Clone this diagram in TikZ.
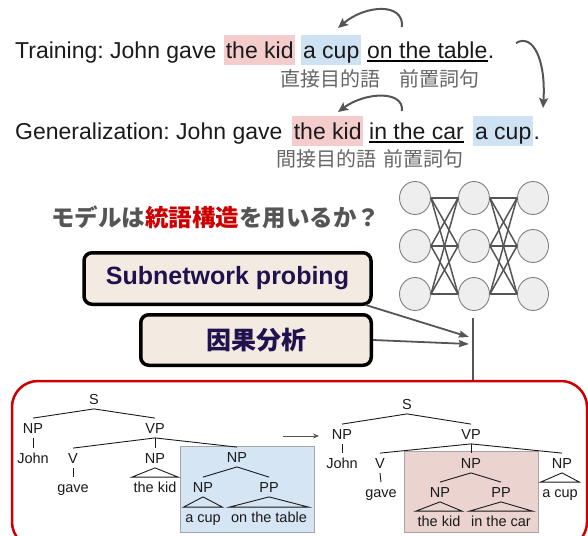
\documentclass[tikz,border=0pt]{standalone}
\usepackage{fontspec}
\setmainfont{Liberation Sans}
\newfontfamily\jp{Noto Sans CJK JP}
\usetikzlibrary{arrows.meta,calc,shapes.geometric}
\definecolor{txt}{HTML}{1A1A1A}
\definecolor{hlpink}{HTML}{F4CCCC}
\definecolor{hlblue}{HTML}{CFE2F3}
\definecolor{anngray}{HTML}{666666}
\definecolor{arrgray}{HTML}{555555}
\definecolor{titlegray}{HTML}{555555}
\definecolor{titlered}{HTML}{CC0000}
\definecolor{boxfill}{HTML}{F3EAE1}
\definecolor{navy}{HTML}{20124D}
\definecolor{neufill}{HTML}{EEEEEE}
\definecolor{neudraw}{HTML}{808080}
\definecolor{redc}{HTML}{CC0000}
\definecolor{treeblue}{HTML}{D6E5F4}
\definecolor{treepink}{HTML}{EBD3D0}
\frenchspacing
\begin{document}
\begin{tikzpicture}[x=1pt,y=-1pt,
  sent/.style={anchor=base west, inner sep=0, font=\fontsize{23}{28}\selectfont, text=txt},
  hl/.style={anchor=north west, inner xsep=0, inner ysep=0, minimum height=30, text height=23, text depth=7, font=\fontsize{23}{28}\selectfont, text=txt},
  ann/.style={anchor=west, inner sep=0, font=\jp\fontsize{20}{24}\selectfont, text=anngray},
  curv/.style={draw=arrgray, line width=2, -{Stealth[length=10,width=9,inset=2]}},
  uline/.style={draw=black, line width=2.5},
  probe/.style={draw=black, line width=3.5, rounded corners=8, fill=boxfill, text=navy, font=\bfseries\fontsize{25}{30}\selectfont, inner sep=0},
  neuron/.style={ellipse, draw=neudraw, line width=0.9, fill=neufill, minimum width=31, minimum height=33, inner sep=0},
  conn/.style={draw=arrgray, line width=1.5},
  parr/.style={draw=arrgray, line width=1.8, -{Stealth[length=10,width=7,inset=1]}},
  tn/.style={font=\fontsize{14.5}{17}\selectfont, text=txt, inner xsep=1.5, inner ysep=4.5, text height=10.4, text depth=0},
  te/.style={draw=txt, line width=0.9},
  tbox/.style={anchor=north west, draw=gray!70, line width=0.9, inner sep=0},
]
\clip (0,0) rectangle (588,535);

% ---------- sentence 1 ----------
\node[sent] (t1) at (15,58) {Training: John gave};
\node[hl, fill=hlpink, minimum width=71] (k1) at (224,35) {the kid};
\node[hl, fill=hlblue, minimum width=60] (c1) at (301,35) {a cup};
\node[sent] (o1) at (367,58) {on the table};
\node[sent] (p1) at (o1.base east) {.};
\draw[uline] ($(o1.base west)+(0,3)$) -- ($(o1.base east)+(0,3)$);
\node[ann] (a1) at (280,79) {直接目的語};
\node[ann] (b1) at (399,79) {前置詞句};
\coordinate (s1) at (402,27);
\coordinate (e1) at (338,28);
\draw[curv] (s1) .. controls (404,2) and (365,5) .. (e1);

% big arrow
\coordinate (bs) at (516,43);
\coordinate (be) at (543,108);
\draw[curv] (bs) .. controls (533,33) and (546,60) .. (be);

% ---------- sentence 2 ----------
\node[sent] (t2) at (15,139) {Generalization: John gave};
\node[hl, fill=hlpink, minimum width=71] (k2) at (292,116) {the kid};
\node[sent] (o2) at (369,139) {in the car};
\draw[uline] ($(o2.base west)+(0,3)$) -- ($(o2.base east)+(0,3)$);
\node[hl, fill=hlblue, minimum width=60] (c2) at (473,116) {a cup};
\node[sent] (p2) at (c2.east |- o2.base) {.};
\node[ann] (a2) at (276,159) {間接目的語};
\node[ann] (b2) at (383,159) {前置詞句};
\coordinate (s2) at (402,111);
\coordinate (e2) at (338,112);
\draw[curv] (s2) .. controls (404,90) and (365,92) .. (e2);

% ---------- question ----------
\node[anchor=west, inner sep=0, font=\jp\bfseries\fontsize{23.5}{28}\selectfont, text=titlegray] (q) at (51,217)
  {モデルは\textcolor{titlered}{統語構造}を用いるか？};

% ---------- boxes ----------
\node[probe, minimum width=287, minimum height=51.5] (sub) at (227.5,278.5) {Subnetwork probing};
\node[probe, minimum width=230.5, minimum height=50.5] (cause) at (256,340) {\jp\bfseries 因果分析};

% ---------- network ----------
\foreach \c/\x in {1/415,2/474,3/533}{
  \foreach \r/\y in {1/198,2/246,3/294}{
    \node[neuron] (n\c\r) at (\x,\y) {};
  }
}
\foreach \i in {1,2,3}{
  \foreach \j in {1,2,3}{
    \draw[conn] (n1\i.east) -- (n2\j.west);
    \draw[conn] (n2\i.east) -- (n3\j.west);
  }
}
\coordinate (vt) at (473,318);
\coordinate (vb) at (473,381);
\draw[draw=arrgray, line width=2.5] (vt) -- (vb);
\coordinate (h1) at (469,337);
\coordinate (h2) at (469,344);
\draw[parr] ($(sub.south east)+(-7,-1)$) -- (h1);
\draw[parr] (cause.east) -- (h2);

% ---------- red frame ----------
\draw[draw=redc, line width=2.5, rounded corners=26] (12,381) rectangle (587,548);

% ---------- left tree ----------
\node[tbox, fill=treeblue, minimum width=134, minimum height=86] (bb) at (180,446) {};
\node[tn] (S1) at (94,399) {S};
\node[tn] (NPa) at (33,428) {NP};
\node[tn] (VPa) at (155,428) {VP};
\node[tn] (Jo1) at (33,458) {John};
\node[tn] (V1) at (73,458) {V};
\node[tn] (NPb) at (155,458) {NP};
\node[tn] (NPc) at (237,457) {NP};
\node[tn] (gv1) at (73,487) {gave};
\node[tn] (kd1) at (155,487) {the kid};
\node[tn] (NPd) at (203,487) {NP};
\node[tn] (PPa) at (269,487) {PP};
\node[tn] (cp1) at (203,517) {a cup};
\node[tn] (tb1) at (269,517) {on the table};
\draw[te] (NPa.north) -- (S1.south) -- (VPa.north);
\draw[te] (NPa.south) -- (Jo1.north);
\draw[te] (VPa.south) -- (V1.north);
\draw[te] (VPa.south) -- (NPb.north);
\draw[te] (VPa.south) -- (NPc.north);
\draw[te] (V1.south) -- (gv1.north);
\draw[te] (NPb.south) -- (kd1.north west) -- (kd1.north east) -- cycle;
\draw[te] (NPd.north) -- (NPc.south) -- (PPa.north);
\draw[te] (NPd.south) -- (cp1.north west) -- (cp1.north east) -- cycle;
\draw[te] (PPa.south) -- (tb1.north west) -- (tb1.north east) -- cycle;

% middle arrow
\coordinate (ma) at (283,436);
\coordinate (mb) at (319,436);
\draw[draw=arrgray, line width=0.9, -{Stealth[length=6,width=5]}] (ma) -- (mb);

% ---------- right tree ----------
\node[tbox, fill=treepink, minimum width=134, minimum height=81] (pb) at (404,451) {};
\node[tn] (S2) at (407,404) {S};
\node[tn] (NPe) at (342,434) {NP};
\node[tn] (VPb) at (471,434) {VP};
\node[tn] (Jo2) at (342,463) {John};
\node[tn] (V2) at (380,463) {V};
\node[tn] (NPf) at (471,463) {NP};
\node[tn] (NPg) at (562,463) {NP};
\node[tn] (gv2) at (381,492) {gave};
\node[tn] (NPh) at (440,492) {NP};
\node[tn] (PPb) at (501,492) {PP};
\node[tn] (cp2) at (560,492) {a cup};
\node[tn] (kd2) at (439,521) {the kid};
\node[tn] (car2) at (501,521) {in the car};
\draw[te] (NPe.north) -- (S2.south) -- (VPb.north);
\draw[te] (NPe.south) -- (Jo2.north);
\draw[te] (VPb.south) -- (V2.north);
\draw[te] (VPb.south) -- (NPf.north);
\draw[te] (VPb.south) -- (NPg.north);
\draw[te] (V2.south) -- (gv2.north);
\draw[te] (NPh.north) -- (NPf.south) -- (PPb.north);
\draw[te] (NPh.south) -- (kd2.north west) -- (kd2.north east) -- cycle;
\draw[te] (PPb.south) -- (car2.north west) -- (car2.north east) -- cycle;
\draw[te] (NPg.south) -- (cp2.north west) -- (cp2.north east) -- cycle;
\end{tikzpicture}
\end{document}
